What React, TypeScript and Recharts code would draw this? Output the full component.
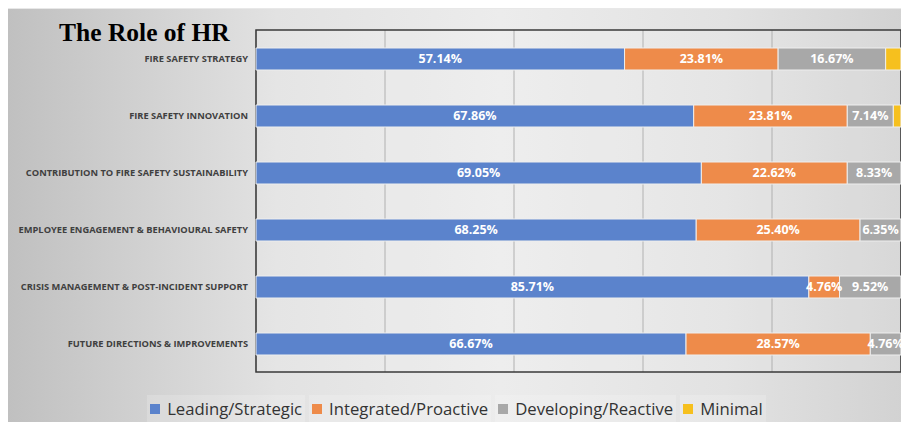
import { BarChart, Bar, XAxis, YAxis, CartesianGrid, Legend, LabelList, ReferenceArea } from 'recharts'

const categories = [
  'FIRE SAFETY STRATEGY',
  'FIRE SAFETY INNOVATION',
  'CONTRIBUTION TO FIRE SAFETY SUSTAINABILITY',
  'EMPLOYEE ENGAGEMENT & BEHAVIOURAL SAFETY',
  'CRISIS MANAGEMENT & POST-INCIDENT SUPPORT',
  'FUTURE DIRECTIONS & IMPROVEMENTS',
]
const leading = [57.14, 67.86, 69.05, 68.25, 85.71, 66.67]
const integrated = [23.81, 23.81, 22.62, 25.4, 4.76, 28.57]
const developing = [16.67, 7.14, 8.33, 6.35, 9.52, 4.76]
const minimal = [2.38, 1.19, 0, 0, 0, 0]
const xTicks = [0, 20, 40, 60, 80, 100]

const seriesInfo = [
  { key: 'leading', name: 'Leading/Strategic', color: '#5B83CC', label: true },
  { key: 'integrated', name: 'Integrated/Proactive', color: '#EE8B4A', label: true },
  { key: 'developing', name: 'Developing/Reactive', color: '#A8A8A8', label: true },
  { key: 'minimal', name: 'Minimal', color: '#F6C01E', label: false },
]

const data = categories.map((c, i) => ({
  category: c,
  leading: leading[i],
  integrated: integrated[i],
  developing: developing[i],
  minimal: minimal[i],
}))

const fmt = (v: any) => (typeof v === 'number' && v > 0 ? v.toFixed(2) + '%' : '')

function CategoryTick({ x, y, payload }: any) {
  return (
    <text
      x={x}
      y={y}
      dy={3}
      textAnchor="end"
      fontSize={9.3}
      fontWeight={700}
      fill="#404040"
      fontFamily='"Open Sans", sans-serif'
    >
      {payload.value}
    </text>
  )
}

function LegendBox() {
  return (
    <div style={{ display: 'flex', justifyContent: 'center', gap: 4, fontFamily: '"Open Sans", sans-serif' }}>
      {seriesInfo.map((s) => (
        <div
          key={s.key}
          style={{
            display: 'flex',
            alignItems: 'center',
            gap: 7,
            background: 'rgba(255,255,255,0.18)',
            padding: '2px 3px',
            fontSize: 16.7,
            color: '#333',
          }}
        >
          <span style={{ width: 10, height: 10, background: s.color, display: 'inline-block' }} />
          {s.name}
        </div>
      ))}
    </div>
  )
}

export default function App() {
  return (
    <div
      style={{
        position: 'relative',
        width: 897,
        height: 414,
        background: 'linear-gradient(90deg, #c0c0c0 0%, #e2e2e2 30%, #ececec 55%, #e2e2e2 80%, #d2d2d2 100%)',
        borderTop: '1px solid #e8e8e8',
        boxSizing: 'border-box',
      }}
    >
      <div
        style={{
          position: 'absolute',
          left: 51,
          top: 9,
          fontFamily: '"Liberation Serif", "Times New Roman", serif',
          fontWeight: 700,
          fontSize: 25.5,
          color: '#000',
        }}
      >
        The Role of HR
      </div>
      <BarChart
        width={897}
        height={413}
        data={data}
        layout="vertical"
        margin={{ top: 21, right: 4, bottom: 0, left: 0 }}
        barSize={22}
      >
        <ReferenceArea x1={0} x2={100} fill="#ffffff" fillOpacity={0.12} stroke="none" />
        <CartesianGrid horizontal={false} stroke="#a6a6a6" />
        <XAxis type="number" domain={[0, 100]} ticks={xTicks} hide />
        <YAxis
          type="category"
          dataKey="category"
          width={248}
          axisLine={false}
          tickLine={false}
          tickMargin={2}
          tick={<CategoryTick />}
        />
        {seriesInfo.map((s) => (
          <Bar
            key={s.key}
            dataKey={s.key}
            name={s.name}
            stackId="a"
            fill={s.color}
            stroke="#eeeeee"
            strokeWidth={1}
            isAnimationActive={false}
          >
            {s.label && (
              <LabelList
                dataKey={s.key}
                position="center"
                formatter={fmt}
                fill="#ffffff"
                style={{ fontSize: 12.5, fontWeight: 700, fontFamily: '"Open Sans", sans-serif' }}
              />
            )}
          </Bar>
        ))}
        <ReferenceArea
          x1={0}
          x2={100}
          fill="none"
          stroke="#3a3a3a"
          strokeWidth={1.5}
          ifOverflow="visible"
        />
        <Legend
          verticalAlign="bottom"
          height={50}
          content={() => <LegendBox />}
          wrapperStyle={{ top: 386, left: 0, width: 897, bottom: 'auto' }}
        />
      </BarChart>
    </div>
  )
}
